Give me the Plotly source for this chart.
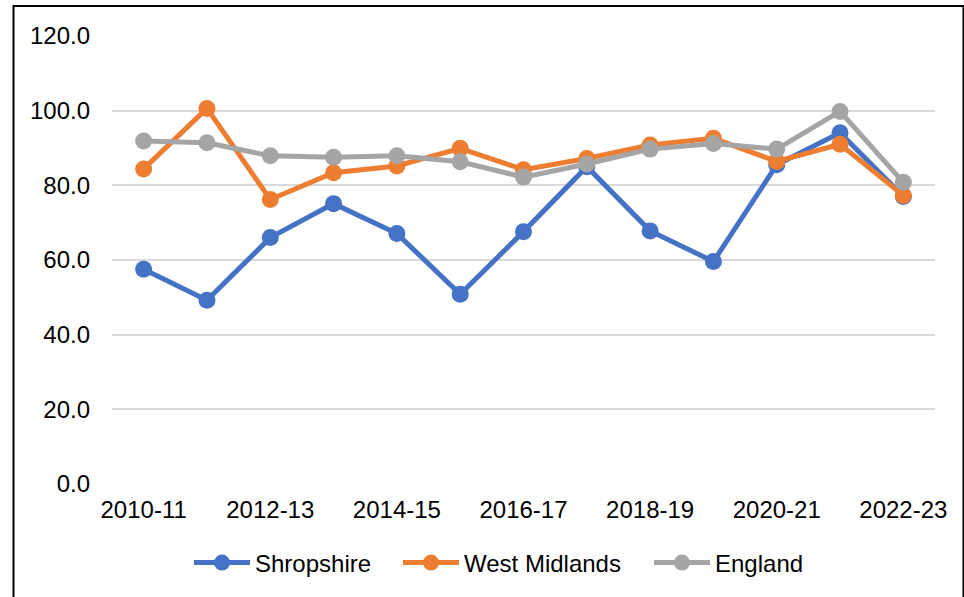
import plotly.graph_objects as go

categories = ["2010-11", "2011-12", "2012-13", "2013-14", "2014-15", "2015-16", "2016-17",
              "2017-18", "2018-19", "2019-20", "2020-21", "2021-22", "2022-23"]
shropshire = [57.5, 49.2, 66.0, 75.1, 67.1, 50.8, 67.6, 85.0, 67.8, 59.6, 85.5, 94.1, 77.0]
west_midlands = [84.4, 100.6, 76.2, 83.4, 85.2, 89.9, 84.2, 87.2, 90.8, 92.6, 86.4, 91.0, 77.3]
england = [91.9, 91.4, 87.9, 87.5, 87.9, 86.3, 82.2, 85.7, 89.7, 91.2, 89.7, 99.8, 80.8]
tick_labels = categories[::2]

series = [("Shropshire", shropshire, "#4472C4", "legend"),
          ("West Midlands", west_midlands, "#ED7D31", "legend2"),
          ("England", england, "#A5A5A5", "legend3")]

FONT = "Liberation Sans, Arial, sans-serif"
FS = 24

fig = go.Figure()
for name, vals, col, lg in series:
    fig.add_trace(go.Scatter(
        x=categories, y=vals, name=name, mode="lines+markers",
        line=dict(color=col, width=5),
        marker=dict(color=col, size=17),
        legend=lg,
    ))

W, H = 964, 597
L, R, T, B = 112, 29, 36, 113
pw = W - L - R
ph = H - T - B

legend_y = (484 - 563) / ph
def leg(px_left):
    return dict(orientation="h", x=(px_left - L) / pw, xanchor="left",
                y=legend_y, yanchor="middle",
                font=dict(family=FONT, size=FS, color="#000000"),
                itemwidth=56, bgcolor="rgba(0,0,0,0)")

fig.update_layout(
    width=W, height=H,
    margin=dict(l=L, r=R, t=T, b=B),
    paper_bgcolor="white", plot_bgcolor="white",
    font=dict(family=FONT, size=FS, color="#000000"),
    showlegend=True,
    legend=leg(189),
    legend2=leg(398),
    legend3=leg(649),
    xaxis=dict(type="category", range=[-0.5, len(categories) - 0.5],
               tickmode="array", tickvals=tick_labels, ticktext=tick_labels,
               showgrid=False, showline=False, zeroline=False, ticks="",
               ticklabelstandoff=9,
               tickfont=dict(family=FONT, size=FS, color="#000000")),
    yaxis=dict(range=[0, 120], tick0=0, dtick=20, tickformat=".1f",
               showgrid=True, gridcolor="#D9D9D9", gridwidth=1.5,
               zeroline=False, showline=False, ticks="",
               ticklabelstandoff=21,
               tickfont=dict(family=FONT, size=FS, color="#000000")),
    shapes=[dict(type="rect", xref="paper", yref="paper",
                 x0=(13.5 - L) / pw, x1=(963.5 - L) / pw,
                 y0=(484 - 600) / ph, y1=(484 - 6) / ph,
                 line=dict(color="#000000", width=2), layer="below")],
)

fig.write_html("out.html", config={"displayModeBar": False},
               post_script="document.body.style.margin='0';document.body.style.padding='0';")
